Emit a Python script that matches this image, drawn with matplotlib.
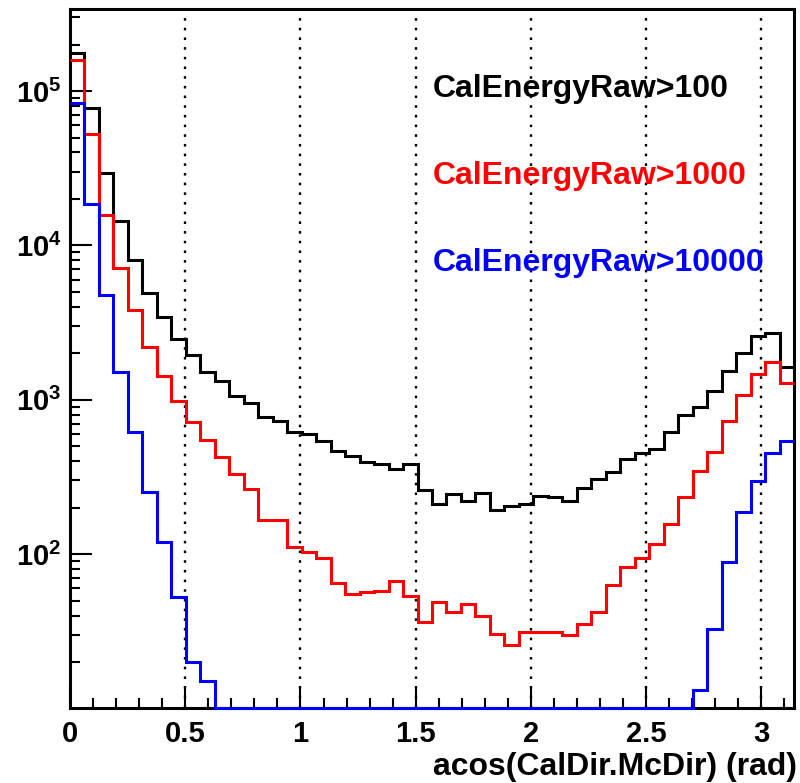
import numpy as np
import matplotlib
matplotlib.use("Agg")
import matplotlib.pyplot as plt
from matplotlib.ticker import FixedLocator, MultipleLocator, LogLocator, NullFormatter

# ---- data ----
x_min, x_max, n_bins = 0.0, np.pi, 50

counts_100 = [1.77e5, 7.73e4, 2.93e4, 1.43e4, 8.05e3, 4.9e3, 3.46e3, 2.47e3, 1.95e3, 1.52e3,
              1.33e3, 1.06e3, 952, 773, 724, 614, 600, 543, 468, 434,
              396, 386, 356, 382, 259, 212, 245, 221, 248, 194,
              204, 212, 239, 233, 220, 268, 307, 340, 413, 452,
              480, 614, 791, 897, 1140, 1540, 2020, 2570, 2690, 1640]
counts_1000 = [1.59e5, 5.27e4, 1.57e4, 7.18e3, 3.83e3, 2.21e3, 1.43e3, 985, 713, 550,
               425, 330, 264, 166, 166, 111, 103, 94, 65, 55.5,
               57.1, 58, 67.3, 53.3, 36.2, 48.8, 42.3, 47.3, 40, 30.4,
               25.9, 31.2, 31.2, 31.2, 30.1, 35, 42.1, 63, 82.6, 94.5,
               117, 157, 234, 344, 456, 724, 1070, 1470, 1750, 1290]
counts_10000 = [8.4e4, 1.85e4, 4.77e3, 1.52e3, 617, 251, 120, 52.8, 20, 15,
                0, 0, 0, 0, 0, 0, 0, 0, 0, 0,
                0, 0, 0, 0, 0, 0, 0, 0, 0, 0,
                0, 0, 0, 0, 0, 0, 0, 0, 0, 0,
                0, 0, 0, 13.1, 32.8, 89, 188, 296, 452, 543]

labels = ["CalEnergyRaw>100", "CalEnergyRaw>1000", "CalEnergyRaw>10000"]
colors = ["black", "red", "blue"]
x_ticks = [0, 0.5, 1, 1.5, 2, 2.5, 3]
x_tick_labels = ["0", "0.5", "1", "1.5", "2", "2.5", "3"]
y_ticks = [1e2, 1e3, 1e4, 1e5]
y_tick_labels = [r"$10^{2}$", r"$10^{3}$", r"$10^{4}$", r"$10^{5}$"]
x_label = "acos(CalDir.McDir) (rad)"

# ---- style ----
plt.rcParams['font.family'] = ['Liberation Sans', 'DejaVu Sans']
plt.rcParams['font.weight'] = 'bold'
plt.rcParams['mathtext.fontset'] = 'custom'
plt.rcParams['mathtext.rm'] = 'Liberation Sans:bold'
plt.rcParams['mathtext.it'] = 'Liberation Sans:bold'
plt.rcParams['mathtext.bf'] = 'Liberation Sans:bold'

fig = plt.figure(figsize=(8, 7.83), dpi=100)
ax = fig.add_axes([0.0875, 0.0958, 0.905, 0.8922])

y_lo, y_hi = 10.07, 3.38e5
edges = np.linspace(x_min, x_max, n_bins + 1)
for vals, col in zip([counts_100, counts_1000, counts_10000], colors):
    v = np.maximum(np.asarray(vals, dtype=float), y_lo)
    ax.stairs(v, edges, baseline=None, color=col, lw=2.2, zorder=3, clip_on=False)

ax.set_yscale('log')
ax.set_xlim(x_min, x_max)
ax.set_ylim(y_lo, y_hi)

ax.xaxis.set_major_locator(FixedLocator(x_ticks))
ax.set_xticklabels(x_tick_labels)
ax.xaxis.set_minor_locator(MultipleLocator(0.1))
ax.yaxis.set_major_locator(FixedLocator(y_ticks))
ax.set_yticklabels(y_tick_labels)
ax.yaxis.set_minor_locator(LogLocator(base=10, subs=np.arange(2, 10)))
ax.yaxis.set_minor_formatter(NullFormatter())

ax.tick_params(which='major', direction='in', length=15.8, width=1.5, labelsize=21,
               top=False, right=False)
ax.tick_params(which='minor', direction='in', length=7.2, width=1.5, top=False, right=False)
ax.tick_params(axis='x', which='major', pad=9)
ax.tick_params(axis='y', which='major', pad=6)
for lab in ax.get_xticklabels() + ax.get_yticklabels():
    lab.set_fontweight('bold')

for s in ax.spines.values():
    s.set_linewidth(2.2)

ax.xaxis.grid(True, which='major', linestyle=(0, (1.1, 3)), color='black', lw=1.7)
ax.set_axisbelow(True)

ax.set_xlabel(x_label, fontsize=23, fontweight='bold', ha='right', va='top')
ax.xaxis.set_label_coords(1.004, -0.063)

text_y = [0.874, 0.750, 0.626]
for lab, col, ty in zip(labels, colors, text_y):
    ax.text(0.501, ty, lab, color=col, fontsize=23, fontweight='bold',
            transform=ax.transAxes, ha='left', va='baseline')

fig.savefig("out.png", dpi=100)
